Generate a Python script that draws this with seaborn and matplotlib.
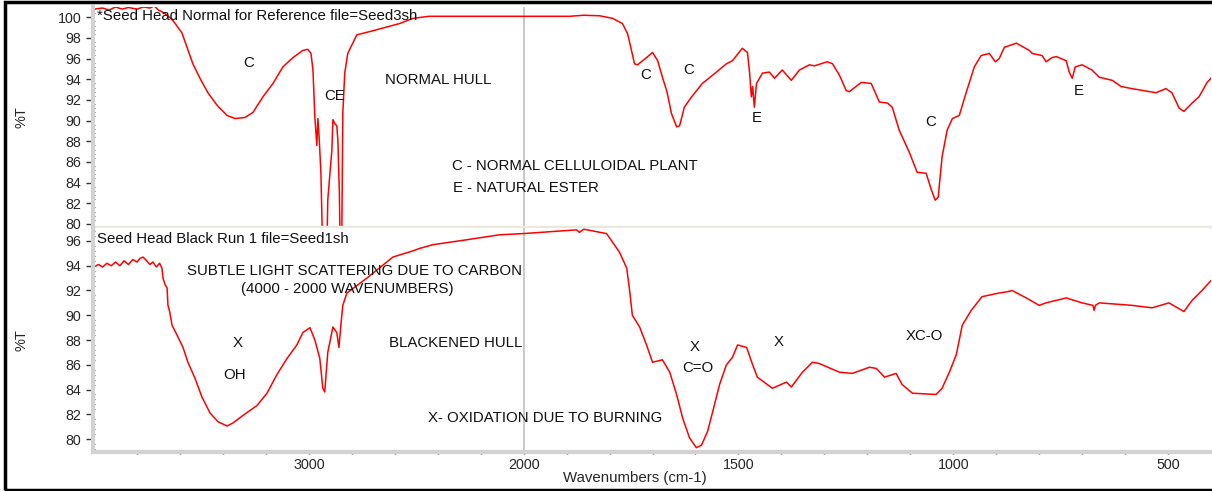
import numpy as np
import matplotlib
matplotlib.use("Agg")
import matplotlib.pyplot as plt
from matplotlib.ticker import FixedLocator, AutoMinorLocator
from matplotlib.patches import Rectangle
import seaborn as sns

# ---------------- data ----------------
wn_top = [4000, 3960, 3930, 3900, 3870, 3840, 3800, 3770, 3740, 3720, 3700, 3680, 3660, 3633,
          3591, 3567, 3540, 3507, 3470, 3428, 3381, 3344, 3298, 3260, 3214, 3167, 3121, 3074,
          3028, 3005, 2990, 2981, 2972, 2963, 2958, 2952, 2944, 2937, 2925, 2915, 2912, 2902,
          2893, 2888, 2879, 2870, 2865, 2858, 2853, 2847, 2842, 2833, 2819, 2777, 2702, 2577,
          2516, 2440, 1893, 1860, 1823, 1793, 1770, 1758, 1749, 1742, 1735, 1714, 1700, 1688,
          1677, 1667, 1656, 1644, 1637, 1626, 1609, 1584, 1560, 1528, 1514, 1491, 1479, 1474,
          1470, 1467, 1463, 1458, 1444, 1428, 1416, 1398, 1377, 1358, 1335, 1323, 1293, 1281,
          1265, 1249, 1242, 1214, 1191, 1172, 1153, 1142, 1126, 1102, 1084, 1063, 1051, 1042,
          1035, 1026, 1014, 1002, 986, 970, 951, 935, 916, 902, 893, 881, 853, 823, 816, 793,
          784, 770, 760, 737, 730, 723, 716, 700, 677, 660, 630, 609, 584, 528, 505, 491, 474,
          463, 444, 428, 409, 400]
t_top = [100.8, 100.9, 100.7, 101.0, 100.8, 100.95, 100.8, 101.0, 100.9, 101.1, 100.7, 100.5,
         100.2, 99.7, 98.5, 97.1, 95.5, 94.1, 92.7, 91.5, 90.5, 90.2, 90.3, 90.8, 92.3, 93.6,
         95.2, 96.1, 96.8, 96.9, 96.5, 94.9, 90.3, 87.6, 90.2, 88.3, 85.0, 78.5, 75.0, 79.0,
         82.3, 84.9, 87.1, 90.1, 89.7, 89.5, 88.1, 83.0, 76.0, 78.0, 90.7, 94.6, 96.5, 98.3,
         98.7, 99.4, 99.9, 100.1, 100.1, 100.2, 100.15, 99.9, 99.4, 98.4, 96.8, 95.5, 95.4,
         96.1, 96.6, 95.8, 94.2, 92.9, 90.7, 89.4, 89.5, 91.3, 92.3, 93.6, 94.4, 95.5, 95.8,
         97.0, 96.6, 94.6, 92.3, 93.3, 91.3, 93.6, 94.6, 94.7, 94.1, 94.9, 93.9, 94.9, 95.4,
         95.3, 95.7, 95.5, 94.4, 92.9, 92.8, 93.7, 93.6, 91.8, 91.7, 91.3, 89.1, 86.9, 85.0,
         84.9, 83.3, 82.3, 82.6, 86.5, 89.1, 90.2, 90.5, 92.7, 95.2, 96.3, 96.5, 95.7, 96.0,
         97.1, 97.5, 96.8, 96.5, 96.3, 95.7, 96.1, 96.2, 95.8, 94.7, 94.1, 95.2, 95.4, 94.9,
         94.2, 93.9, 93.3, 93.1, 92.7, 93.1, 92.7, 91.2, 90.9, 91.7, 92.3, 93.7, 94.1]

wn_bot = [4000, 3980, 3960, 3940, 3920, 3900, 3880, 3860, 3840, 3820, 3800, 3786, 3772, 3755,
          3740, 3726, 3710, 3695, 3684, 3679, 3670, 3660, 3656, 3648, 3637, 3614, 3586, 3563,
          3530, 3498, 3460, 3423, 3381, 3353, 3307, 3242, 3195, 3149, 3102, 3056, 3028, 2995,
          2972, 2949, 2935, 2926, 2912, 2888, 2870, 2860, 2851, 2842, 2823, 2730, 2609, 2516,
          2484, 2423, 2265, 2112, 2000, 1877, 1870, 1860, 1823, 1807, 1793, 1777, 1760, 1753,
          1747, 1730, 1714, 1700, 1677, 1660, 1644, 1630, 1614, 1598, 1586, 1572, 1560, 1544,
          1528, 1514, 1502, 1481, 1467, 1456, 1421, 1388, 1377, 1351, 1328, 1312, 1265, 1235,
          1195, 1179, 1160, 1133, 1119, 1095, 1040, 1026, 1009, 993, 979, 958, 933, 893, 874,
          863, 830, 800, 784, 737, 700, 675, 672, 669, 660, 584, 537, 498, 463, 444, 421, 400]
t_bot = [93.9, 94.1, 93.9, 94.2, 94.0, 94.3, 94.0, 94.4, 94.1, 94.5, 94.3, 94.6, 94.7, 94.4,
         94.1, 94.3, 93.9, 94.2, 93.8, 93.0, 92.5, 92.2, 90.8, 90.3, 89.2, 88.4, 87.4, 86.2,
         84.9, 83.4, 82.1, 81.4, 81.05, 81.3, 81.9, 82.7, 83.7, 85.2, 86.5, 87.6, 88.6, 89.0,
         88.0, 86.5, 84.1, 83.8, 87.0, 89.05, 88.6, 87.4, 89.2, 90.8, 91.8, 93.0, 94.7, 95.2,
         95.4, 95.7, 96.1, 96.5, 96.6, 96.9, 96.7, 96.95, 96.7, 96.6, 95.9, 95.1, 93.8, 91.9,
         90.0, 89.05, 87.6, 86.2, 86.4, 85.4, 83.6, 81.7, 80.1, 79.3, 79.5, 80.6, 82.2, 84.4,
         86.0, 86.6, 87.6, 87.4, 86.0, 85.0, 84.1, 84.6, 84.2, 85.4, 86.2, 86.1, 85.4, 85.3,
         85.8, 85.7, 85.0, 85.3, 84.4, 83.7, 83.6, 84.1, 85.4, 86.8, 89.2, 90.4, 91.5, 91.8,
         91.9, 92.0, 91.4, 90.8, 91.0, 91.4, 91.0, 90.8, 90.4, 90.8, 91.0, 90.8, 90.6, 91.0,
         90.3, 91.2, 92.0, 92.8]

x_major = [3000, 2000, 1500, 1000, 500]
y_ticks_top = [80, 82, 84, 86, 88, 90, 92, 94, 96, 98, 100]
y_ticks_bot = [80, 82, 84, 86, 88, 90, 92, 94, 96]

title_top = "*Seed Head Normal for Reference file=Seed3sh"
title_bot = "Seed Head Black Run 1 file=Seed1sh"

# annotations: (text, wavenumber, %T, ha)
notes_top = [("C", 3279, 95.6, "center"), ("CE", 2879, 92.4, "center"),
             ("NORMAL HULL", 2647, 93.9, "left"),
             ("C - NORMAL CELLULOIDAL PLANT", 2335, 85.6, "left"),
             ("E - NATURAL ESTER", 2330, 83.5, "left"),
             ("C", 1716, 94.4, "center"), ("C", 1616, 94.9, "center"),
             ("E", 1458, 90.3, "center"), ("C", 1053, 89.9, "center"),
             ("E", 707, 92.9, "center")]
notes_bot = [("SUBTLE LIGHT SCATTERING DUE TO CARBON", 2786, 93.6, "center"),
             ("(4000 - 2000 WAVENUMBERS)", 2819, 92.1, "center"),
             ("X", 3330, 87.76, "center"), ("OH", 3344, 85.2, "center"),
             ("BLACKENED HULL", 2316, 87.76, "center"),
             ("X", 1602, 87.4, "center"), ("C=O", 1595, 85.7, "center"),
             ("X", 1407, 87.8, "center"),
             ("X- OXIDATION DUE TO BURNING", 1949, 81.7, "center"),
             ("XC-O", 1067, 88.3, "center")]

# ---------------- style ----------------
sns.set_style("white")
plt.rcParams['font.family'] = ['Liberation Sans', 'DejaVu Sans']

W, H = 1212, 491
fig = plt.figure(figsize=(W / 100, H / 100), dpi=100)

left = 93 / W
width = (1211 - 93) / W
ax1 = fig.add_axes([left, 1 - 227 / H, width, (227 - 7) / H])
ax2 = fig.add_axes([left, 1 - 452 / H, width, (452 - 228) / H], sharex=ax1)

red = "#ff0000"
sns.lineplot(x=wn_top, y=t_top, ax=ax1, color=red, lw=1.1, estimator=None, sort=False)
sns.lineplot(x=wn_bot, y=t_bot, ax=ax2, color=red, lw=1.1, estimator=None, sort=False)


def fwd(x):
    x = np.asarray(x, dtype=float)
    return np.where(x > 2000, 2000 + (x - 2000) / 2.0, x)


def inv(y):
    y = np.asarray(y, dtype=float)
    return np.where(y > 2000, 2000 + (y - 2000) * 2.0, y)


for ax in (ax1, ax2):
    ax.set_xscale('function', functions=(fwd, inv))
ax1.set_xlim(4005, 400)

ax1.set_ylim(79.7, 101.0)
ax2.set_ylim(78.95, 97.05)

FS = 10.8
TFS = 10.3
spine_col = "#d2d2d2"
for ax, yt in ((ax1, y_ticks_top), (ax2, y_ticks_bot)):
    ax.axvline(2000, color="#c4c4c4", lw=1.3, zorder=0)
    ax.set_yticks(yt)
    ax.yaxis.set_minor_locator(AutoMinorLocator(5))
    ax.tick_params(axis='y', which='major', direction='out', length=5, width=1,
                   color='#333333', labelsize=TFS, pad=3.5, left=True)
    ax.tick_params(axis='y', which='minor', direction='inout', length=3.5, width=0.8,
                   color='#555555', left=True)
    ax.spines['right'].set_visible(False)
    ax.spines['top'].set_visible(False)
    ax.spines['left'].set_color(spine_col)
    ax.spines['left'].set_linewidth(3)
    ax.set_ylabel("%T", fontsize=10.5)
    ax.yaxis.set_label_coords(-0.058, 0.5)

ax1.spines['bottom'].set_color("#ebe8de")
ax1.spines['bottom'].set_linewidth(2.5)
ax1.tick_params(axis='x', which='both', bottom=False, labelbottom=False)

ax2.spines['bottom'].set_color(spine_col)
ax2.spines['bottom'].set_linewidth(3)
ax2.xaxis.set_major_locator(FixedLocator(x_major))
minor_x = [v for v in list(range(3800, 2000, -200)) + list(range(1900, 400, -100))
           if v not in x_major]
ax2.xaxis.set_minor_locator(FixedLocator(minor_x))
ax2.set_xticklabels([str(v) for v in x_major])
ax2.tick_params(axis='x', which='both', direction='inout', length=3, width=1,
                color='#333333', labelsize=TFS, pad=3, bottom=True)
ax2.set_xlabel("Wavenumbers (cm-1)", fontsize=FS)
ax2.xaxis.set_label_coords(0.485, -0.085)

ax1.text(0.004, 0.96, title_top, transform=ax1.transAxes, fontsize=FS,
         ha='left', va='center', color='#111111')
ax2.text(0.004, 0.95, title_bot, transform=ax2.transAxes, fontsize=FS,
         ha='left', va='center', color='#111111')

for ax, notes in ((ax1, notes_top), (ax2, notes_bot)):
    for txt, x, y, ha in notes:
        ax.text(x, y, txt, fontsize=FS, ha=ha, va='center', color='#111111')

# outer black frame
fig.patches.append(Rectangle((5 / W, 1.5 / H), 1.02 - 5 / W, (489.5 - 1.5) / H,
                             transform=fig.transFigure, fill=False, lw=2.5,
                             ec='black', zorder=10))

fig.savefig("out.png", dpi=100)
